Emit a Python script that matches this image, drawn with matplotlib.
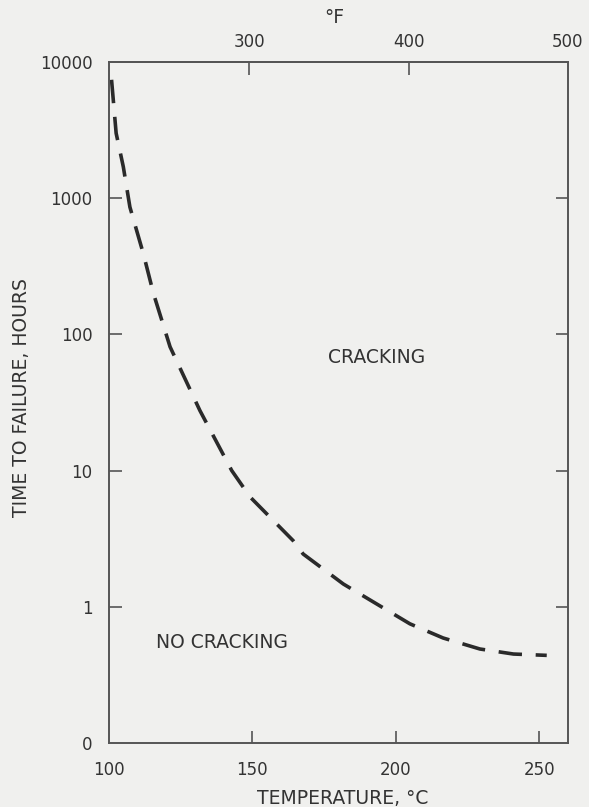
import matplotlib
matplotlib.use("Agg")
import matplotlib.pyplot as plt

# Data
temp_c = [100.9, 102.5, 105.0, 107.3, 112.0, 115.5, 121.3, 131.7, 142.8, 149.2,
          164.2, 167.7, 181.7, 193.3, 204.9, 216.5, 229.3, 241.0, 252.6]
hours = [7400, 3000, 1700, 860, 390, 200, 81, 27.6, 10.0, 6.4,
         3.06, 2.44, 1.47, 1.05, 0.75, 0.59, 0.49, 0.45, 0.44]

x_ticks = [100, 150, 200, 250]
x_tick_labels = ["100", "150", "200", "250"]
y_ticks = [0.1, 1, 10, 100, 1000, 10000]
y_tick_labels = ["0", "1", "10", "100", "1000", "10000"]
f_ticks = [300, 400, 500]
f_tick_labels = ["300", "400", "500"]

bg = "#f0f0ee"
ink = "#333333"
axcol = "#555555"

fig = plt.figure(figsize=(5.89, 8.07), dpi=100, facecolor=bg)
ax = fig.add_axes([0.185, 0.0793, 0.7793, 0.8439], facecolor=bg)

ax.plot(temp_c, hours, color="#2a2a2a", lw=2.6, linestyle=(0, (6.5, 3.8)),
        solid_capstyle="butt", dash_capstyle="butt")

ax.set_yscale("log")
ax.set_xlim(100, 260)
ax.set_ylim(0.1, 10000)
ax.minorticks_off()

ax.set_xticks(x_ticks)
ax.set_xticklabels(x_tick_labels)
ax.set_yticks(y_ticks)
ax.set_yticklabels(y_tick_labels)

fs_tick = 12
fs_lab = 13.5
ax.tick_params(axis="both", which="major", direction="in", length=9, width=1.2,
               color=axcol, labelcolor=ink, labelsize=fs_tick)
ax.tick_params(axis="x", pad=13)
ax.tick_params(axis="y", pad=12, right=True)
# hide tick marks at the corners
for t, v in zip(ax.xaxis.get_major_ticks(), x_ticks):
    if v == 100:
        t.tick1line.set_visible(False)
for t, v in zip(ax.yaxis.get_major_ticks(), y_ticks):
    if v in (0.1, 10000):
        t.tick1line.set_visible(False)
        t.tick2line.set_visible(False)

for s in ax.spines.values():
    s.set_color(axcol)
    s.set_linewidth(1.4)

secax = ax.secondary_xaxis("top", functions=(lambda c: c * 9 / 5 + 32,
                                             lambda f: (f - 32) * 5 / 9))
secax.set_xticks(f_ticks)
secax.set_xticklabels(f_tick_labels)
secax.tick_params(direction="in", length=9, width=1.2, color=axcol,
                  labelcolor=ink, labelsize=fs_tick, pad=8)
for t, v in zip(secax.xaxis.get_major_ticks(), f_ticks):
    if v == 500:
        t.tick1line.set_visible(False)
        t.tick2line.set_visible(False)
secax.spines["top"].set_color(axcol)
secax.spines["top"].set_linewidth(1.4)
ax.text(0.49, 1.066, "°F", transform=ax.transAxes, fontsize=fs_lab, color=ink,
        ha="center", va="center")

ax.set_xlabel("TEMPERATURE, °C", fontsize=fs_lab, color=ink)
ax.xaxis.set_label_coords(0.51, -0.068)
ax.set_ylabel("TIME TO FAILURE, HOURS", fontsize=fs_lab, color=ink, va="center")
ax.yaxis.set_label_coords(-0.19, 0.507)

ax.text(193.4, 68, "CRACKING", fontsize=fs_lab, color=ink, ha="center", va="center")
ax.text(139.4, 0.55, "NO CRACKING", fontsize=fs_lab, color=ink, ha="center", va="center")

fig.savefig("out.png", dpi=100, facecolor=bg)
